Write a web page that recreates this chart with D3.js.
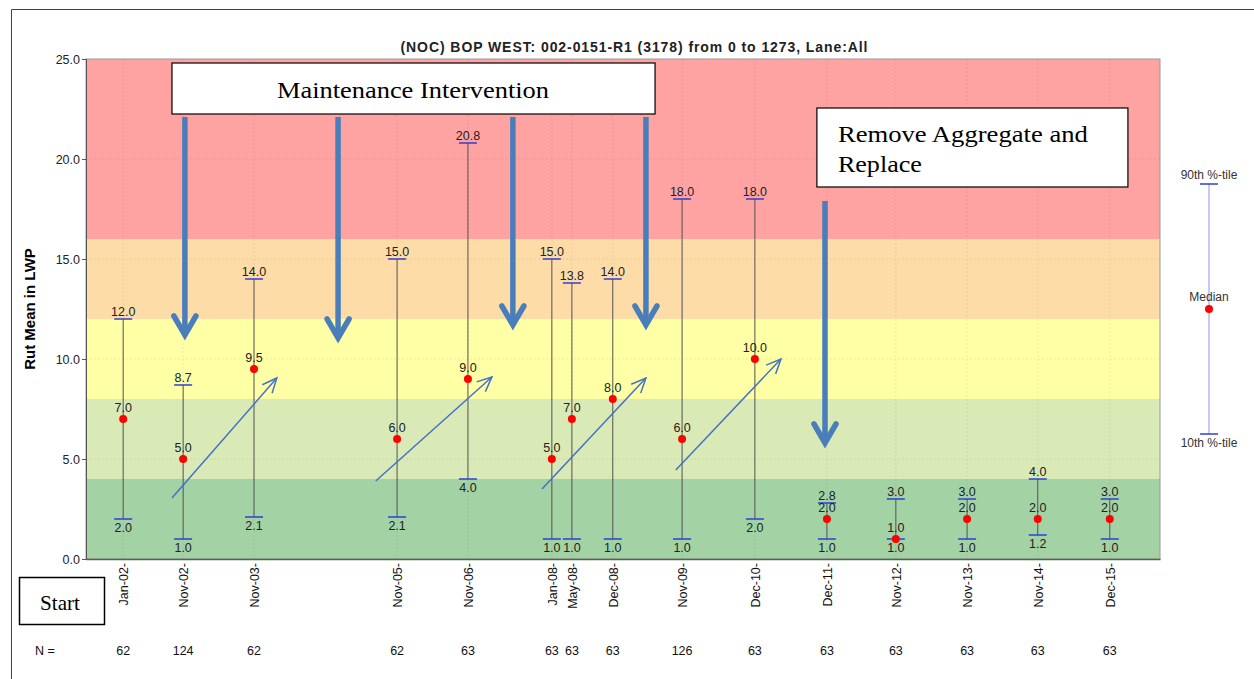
<!DOCTYPE html>
<html>
<head>
<meta charset="utf-8">
<script src="https://cdn.jsdelivr.net/npm/d3@7"></script>
<style>
  body { margin: 0; background: #fff; }
  svg { display: block; font-family: Arial, "Liberation Sans", sans-serif; }
</style>
</head>
<body>
<div id="chart"></div>
<script>
// survey dates, tick labels and rut statistics (90th / median / 10th percentile)
const surveyDates = ['2002-01-15', '2002-11-19', '2003-11-18', '2005-11-22', '2006-11-21',
  '2008-01-26', '2008-05-08', '2008-12-04', '2009-11-25', '2010-12-04',
  '2011-12-09', '2012-11-27', '2013-11-28', '2014-11-26', '2015-12-01'];
const tickLabels = ['Jan-02', 'Nov-02', 'Nov-03', 'Nov-05', 'Nov-06', 'Jan-08', 'May-08', 'Dec-08',
  'Nov-09', 'Dec-10', 'Dec-11', 'Nov-12', 'Nov-13', 'Nov-14', 'Dec-15'];
const p90 = [12.0, 8.7, 14.0, 15.0, 20.8, 15.0, 13.8, 14.0, 18.0, 18.0, 2.8, 3.0, 3.0, 4.0, 3.0];
const median = [7.0, 5.0, 9.5, 6.0, 9.0, 5.0, 7.0, 8.0, 6.0, 10.0, 2.0, 1.0, 2.0, 2.0, 2.0];
const p10 = [2.0, 1.0, 2.1, 2.1, 4.0, 1.0, 1.0, 1.0, 1.0, 2.0, 1.0, 1.0, 1.0, 1.2, 1.0];
const counts = [62, 124, 62, 62, 63, 63, 63, 63, 126, 63, 63, 63, 63, 63, 63];

// condition bands (rut depth ranges)
const bandFrom = [0, 4, 8, 12, 16];
const bandTo = [4, 8, 12, 16, 25];
const bandColors = ['#a3d2a5', '#d9eab7', '#ffffa6', '#fddca7', '#ffa2a2'];

// annotations, in decimal years and rut values
const interventionYears = [2002.907, 2005.06, 2007.52, 2009.39];
const interventionTips = [11.2, 11.05, 11.7, 11.7];
const replaceYear = 2011.91;
const trendArrows = [
  { x0: 2002.725, y0: 3.05, x1: 2004.20, y1: 9.05 },
  { x0: 2005.59, y0: 3.9, x1: 2007.225, y1: 9.1 },
  { x0: 2007.93, y0: 3.5, x1: 2009.39, y1: 9.05 },
  { x0: 2009.81, y0: 4.45, x1: 2011.29, y1: 10.0 }
];

const W = 1254, H = 679;
const margin = { top: 59, right: 94, bottom: 120, left: 86 };
const width = W - margin.left - margin.right;
const height = H - margin.top - margin.bottom;

const parseDate = d3.timeParse('%Y-%m-%d');
const data = surveyDates.map((d, i) => ({
  date: parseDate(d), label: tickLabels[i], hi: p90[i], med: median[i], lo: p10[i], n: counts[i]
}));

const yearToDate = yr => {
  const y = Math.floor(yr);
  const start = new Date(y, 0, 1), end = new Date(y + 1, 0, 1);
  return new Date(+start + (yr - y) * (end - start));
};

const svg = d3.select('#chart').append('svg').attr('width', W).attr('height', H);

// outer frame (top and left edges only)
svg.append('path').attr('d', `M11.5,${H}V9.5H${W}`)
  .attr('fill', 'none').attr('stroke', '#444').attr('stroke-width', 1);

const g = svg.append('g').attr('transform', `translate(${margin.left},${margin.top})`);

const x = d3.scaleTime()
  .domain([parseDate('2001-07-08'), parseDate('2016-08-15')])
  .range([0, width]);
const y = d3.scaleLinear().domain([0, 25]).range([height, 0]);

// bands
g.selectAll('.band').data(bandFrom).enter().append('rect')
  .attr('x', 0).attr('width', width)
  .attr('y', (d, i) => y(bandTo[i]))
  .attr('height', (d, i) => y(d) - y(bandTo[i]))
  .attr('fill', (d, i) => bandColors[i]);

// grid
g.append('g').selectAll('line').data(d3.range(5, 25, 5)).enter().append('line')
  .attr('x1', 0).attr('x2', width).attr('y1', d => y(d)).attr('y2', d => y(d))
  .attr('stroke', 'rgba(0,0,0,0.07)').attr('stroke-dasharray', '2,2');
g.append('g').selectAll('line').data(data).enter().append('line')
  .attr('x1', d => x(d.date)).attr('x2', d => x(d.date)).attr('y1', 0).attr('y2', height)
  .attr('stroke', 'rgba(0,0,0,0.07)').attr('stroke-dasharray', '2,2');

// plot frame
g.append('rect').attr('width', width).attr('height', height)
  .attr('fill', 'none').attr('stroke', '#999');

// axes
const yAxis = g.append('g')
  .call(d3.axisLeft(y).tickValues(d3.range(0, 26, 5)).tickFormat(d3.format('.1f')).tickSize(4).tickPadding(2));
yAxis.select('.domain').attr('stroke', '#555');
yAxis.selectAll('.tick line').attr('stroke', '#555');
yAxis.selectAll('text').attr('font-size', 12.5).attr('fill', '#222');

const xAxis = g.append('g').attr('transform', `translate(0,${height})`)
  .call(d3.axisBottom(x).tickValues(data.map(d => d.date))
    .tickFormat((d, i) => tickLabels[i] + '-').tickSize(0).tickPadding(3));
xAxis.select('.domain').attr('stroke', '#4a6a4a').attr('stroke-width', 1.5);
xAxis.selectAll('.tick text')
  .attr('transform', 'translate(0,4) rotate(-90)')
  .attr('text-anchor', 'end')
  .attr('x', 0).attr('y', 0).attr('dy', '0.35em')
  .attr('font-size', 12.5).attr('fill', '#111');

// y title
svg.append('text')
  .attr('transform', `translate(35,${margin.top + height / 2}) rotate(-90)`)
  .attr('text-anchor', 'middle').attr('font-size', 15).attr('font-weight', 'bold')
  .text('Rut Mean in LWP');

// chart title
svg.append('text').attr('x', 634).attr('y', 52).attr('text-anchor', 'middle')
  .attr('font-size', 14).attr('font-weight', 'bold').attr('fill', '#222')
  .attr('textLength', 467).attr('lengthAdjust', 'spacing')
  .text('(NOC) BOP WEST: 002-0151-R1 (3178) from 0 to 1273, Lane:All');

// whiskers
const capW = 18;
const whisk = g.append('g');
whisk.selectAll('.stem').data(data).enter().append('line')
  .attr('x1', d => x(d.date)).attr('x2', d => x(d.date))
  .attr('y1', d => y(d.hi)).attr('y2', d => y(d.lo))
  .attr('stroke', '#555').attr('stroke-width', 1);
['hi', 'lo'].forEach(k => {
  whisk.selectAll('.cap-' + k).data(data).enter().append('line')
    .attr('x1', d => x(d.date) - capW / 2).attr('x2', d => x(d.date) + capW / 2)
    .attr('y1', d => y(d[k])).attr('y2', d => y(d[k]))
    .attr('stroke', '#2f3fd6').attr('stroke-width', 1.5);
});
whisk.selectAll('.dot').data(data).enter().append('circle')
  .attr('cx', d => x(d.date)).attr('cy', d => y(d.med)).attr('r', 4)
  .attr('fill', '#ff0000');

// value labels
const lab = g.append('g').attr('font-size', 12.5).attr('fill', '#222').attr('text-anchor', 'middle');
lab.selectAll('.lhi').data(data).enter().append('text')
  .attr('x', d => x(d.date)).attr('y', d => y(d.hi) - 3).text(d => d.hi.toFixed(1));
lab.selectAll('.lmed').data(data).enter().append('text')
  .attr('x', d => x(d.date)).attr('y', d => y(d.med) - 7).text(d => d.med.toFixed(1));
lab.selectAll('.llo').data(data).enter().append('text')
  .attr('x', d => x(d.date)).attr('y', d => y(d.lo) + 13).text(d => d.lo.toFixed(1));

// N row
svg.append('text').attr('x', 35).attr('y', 655).attr('font-size', 12.5).attr('fill', '#111').text('N =');
svg.append('g').selectAll('text').data(data).enter().append('text')
  .attr('x', d => margin.left + x(d.date)).attr('y', 655)
  .attr('text-anchor', 'middle').attr('font-size', 12.5).attr('fill', '#111')
  .text(d => d.n);

// legend on the right
const lg = svg.append('g').attr('transform', `translate(1209,0)`).attr('font-size', 12).attr('fill', '#333');
lg.append('line').attr('y1', 184).attr('y2', 434).attr('stroke', '#8f8ff5').attr('stroke-width', 1);
lg.append('line').attr('x1', -9).attr('x2', 9).attr('y1', 184).attr('y2', 184).attr('stroke', '#2f3fd6').attr('stroke-width', 1.5);
lg.append('line').attr('x1', -9).attr('x2', 9).attr('y1', 434).attr('y2', 434).attr('stroke', '#2f3fd6').attr('stroke-width', 1.5);
lg.append('circle').attr('cy', 309).attr('r', 4).attr('fill', '#ff0000');
lg.append('text').attr('y', 179).attr('text-anchor', 'middle').text('90th %-tile');
lg.append('text').attr('y', 301).attr('text-anchor', 'middle').text('Median');
lg.append('text').attr('y', 447).attr('text-anchor', 'middle').text('10th %-tile');

// annotations
const ann = g.append('g');
const thick = '#4a7ebb';
function downArrow(yr, v0, v1) {
  const ax = x(yearToDate(yr)), y0 = y(v0), y1 = y(v1);
  ann.append('line').attr('x1', ax).attr('x2', ax).attr('y1', y0).attr('y2', y1 - 2)
    .attr('stroke', thick).attr('stroke-width', 5.5);
  ann.append('path').attr('d', `M${ax - 11},${y1 - 19}L${ax},${y1}L${ax + 11},${y1 - 19}`)
    .attr('fill', 'none').attr('stroke', thick).attr('stroke-width', 5.5)
    .attr('stroke-linejoin', 'miter').attr('stroke-linecap', 'round');
}
interventionYears.forEach((yr, i) => downArrow(yr, 22.1, interventionTips[i]));
downArrow(replaceYear, 17.9, 5.8);

trendArrows.forEach(a => {
  const x0 = x(yearToDate(a.x0)), y0 = y(a.y0), x1 = x(yearToDate(a.x1)), y1 = y(a.y1);
  ann.append('line').attr('x1', x0).attr('y1', y0).attr('x2', x1).attr('y2', y1)
    .attr('stroke', '#4472c4').attr('stroke-width', 1.5);
  const ang = Math.atan2(y1 - y0, x1 - x0), L = 16, s = 0.42;
  const p1 = [x1 - L * Math.cos(ang - s), y1 - L * Math.sin(ang - s)];
  const p2 = [x1 - L * Math.cos(ang + s), y1 - L * Math.sin(ang + s)];
  ann.append('path').attr('d', `M${p1}L${x1},${y1}L${p2}`)
    .attr('fill', 'none').attr('stroke', '#4472c4').attr('stroke-width', 1.5);
});

function noteBox(yr0, v0, yr1, v1, lines, fs, tx, ty, tlen) {
  const bx = x(yearToDate(yr0)), by = y(v0), bw = x(yearToDate(yr1)) - bx, bh = y(v1) - by;
  ann.append('rect').attr('x', bx).attr('y', by).attr('width', bw).attr('height', bh)
    .attr('fill', '#fff').attr('stroke', '#000').attr('stroke-width', 1.2);
  lines.forEach((s, i) => ann.append('text')
    .attr('font-family', '"Liberation Serif", "Times New Roman", serif')
    .attr('font-size', fs).attr('fill', '#000')
    .attr('x', bx + tx).attr('y', by + ty + i * 30)
    .attr('textLength', tlen[i]).attr('lengthAdjust', 'spacingAndGlyphs')
    .text(s));
}
noteBox(2002.725, 24.8, 2009.518, 22.25, ['Maintenance Intervention'], 24, 105, 35, [272]);
noteBox(2011.796, 22.55, 2016.17, 18.6, ['Remove Aggregate and', 'Replace'], 24, 21, 34, [250, 84]);

// start box, below the axis
svg.append('rect').attr('x', 19.5).attr('y', 577.5).attr('width', 85).attr('height', 47)
  .attr('fill', '#fff').attr('stroke', '#000').attr('stroke-width', 1.5);
svg.append('text').attr('x', 60).attr('y', 610).attr('text-anchor', 'middle')
  .attr('font-family', '"Liberation Serif", "Times New Roman", serif').attr('font-size', 21)
  .attr('textLength', 40).attr('lengthAdjust', 'spacingAndGlyphs')
  .text('Start');
</script>
</body>
</html>
